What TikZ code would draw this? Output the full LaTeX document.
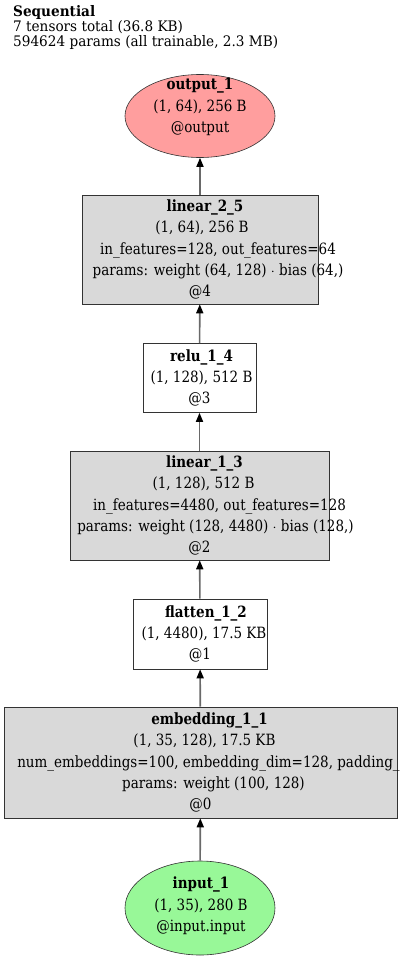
\documentclass[tikz,border=0pt]{standalone}
\usepackage{fontspec}
\setmainfont{DejaVu Serif}[FakeStretch=0.87]
\newfontfamily\headfont{DejaVu Serif}[FakeStretch=0.94]
\usepackage{tikz}
\usetikzlibrary{positioning,arrows.meta,calc,shapes.geometric}
\definecolor{layergray}{RGB}{217,217,217}
\definecolor{outred}{RGB}{255,158,158}
\definecolor{ingreen}{RGB}{152,248,152}
\definecolor{edgegray}{RGB}{105,105,105}
% line of a node label, centred dx to the right
\newcommand{\lineshift}[2]{\makebox[0pt]{\hspace*{#1}\hspace*{#1}#2}}
\tikzset{
  nodefont/.style={font=\fontsize{15.5}{21.3}\selectfont},
  layerbox/.style={draw=black!80,semithick,fill=layergray,align=center,inner sep=0pt,nodefont},
  actbox/.style={draw=black!80,semithick,fill=white,align=center,inner sep=0pt,nodefont},
  outell/.style={ellipse,draw=black!80,semithick,fill=outred,inner sep=0pt,minimum width=150pt,minimum height=83pt},
  inell/.style={ellipse,draw=black!80,semithick,fill=ingreen,inner sep=0pt,minimum width=150pt,minimum height=94pt},
  elltext/.style={align=center,inner sep=0pt,nodefont},
  flow/.style={-{Triangle[length=9pt,width=7pt,color=black]},line width=1.6pt,draw=edgegray},
}
\begin{document}
\begin{tikzpicture}[x=1pt,y=-1pt]
  \useasboundingbox (0,0) rectangle (400,960);
  % header
  \node[anchor=north west,align=left,inner sep=0pt,font=\headfont\fontsize{14.5}{15}\selectfont] (head) at (13,5)
    {\textbf{Sequential}\\7 tensors total (36.8 KB)\\594624 params (all trainable, 2.3 MB)};
  % output
  \node[outell] (out1) at (200,116) {};
  \node[elltext] (out1txt) at (200,107) {\textbf{output\_1}\\(1, 64), 256 B\\@output};
  % layers
  \node[layerbox,minimum width=236pt,minimum height=109pt] (lin2) at (200,249.5)
    {\lineshift{5pt}{\textbf{linear\_2\_5}}\\\lineshift{2pt}{(1, 64), 256 B}\\\lineshift{18pt}{in\_features=128, out\_features=64}\\\lineshift{18pt}{params: weight (64, 128) $\cdot$ bias (64,)}\\@4};
  \node[actbox,minimum width=113pt,minimum height=69pt] (relu) at (199.5,378)
    {\lineshift{2pt}{\textbf{relu\_1\_4}}\\\lineshift{2pt}{(1, 128), 512 B}\\@3};
  \node[layerbox,minimum width=259pt,minimum height=109pt] (lin1) at (199.5,505.5)
    {\lineshift{5pt}{\textbf{linear\_1\_3}}\\\lineshift{4pt}{(1, 128), 512 B}\\\lineshift{20pt}{in\_features=4480, out\_features=128}\\\lineshift{16pt}{params: weight (128, 4480) $\cdot$ bias (128,)}\\@2};
  \node[actbox,minimum width=134pt,minimum height=70pt] (flat) at (200,634)
    {\lineshift{6pt}{\textbf{flatten\_1\_2}}\\\lineshift{4pt}{(1, 4480), 17.5 KB}\\@1};
  \node[layerbox,minimum width=393pt,minimum height=111pt] (emb) at (200.5,762.5)
    {\lineshift{9pt}{\textbf{embedding\_1\_1}}\\\lineshift{4pt}{(1, 35, 128), 17.5 KB}\\\lineshift{8pt}{num\_embeddings=100, embedding\_dim=128, padding\_}\\\lineshift{13pt}{params: weight (100, 128)}\\@0};
  % input
  \node[inell] (in1) at (200,908) {};
  \node[elltext] (in1txt) at (201,906) {\textbf{input\_1}\\(1, 35), 280 B\\@input.input};
  % edges
  \draw[flow] (in1) -- (emb);
  \draw[flow] (emb) -- (flat);
  \draw[flow] (flat) -- (lin1);
  \draw[flow] (lin1) -- (relu);
  \draw[flow] (relu) -- (lin2);
  \draw[flow] (lin2) -- (out1);
\end{tikzpicture}
\end{document}
